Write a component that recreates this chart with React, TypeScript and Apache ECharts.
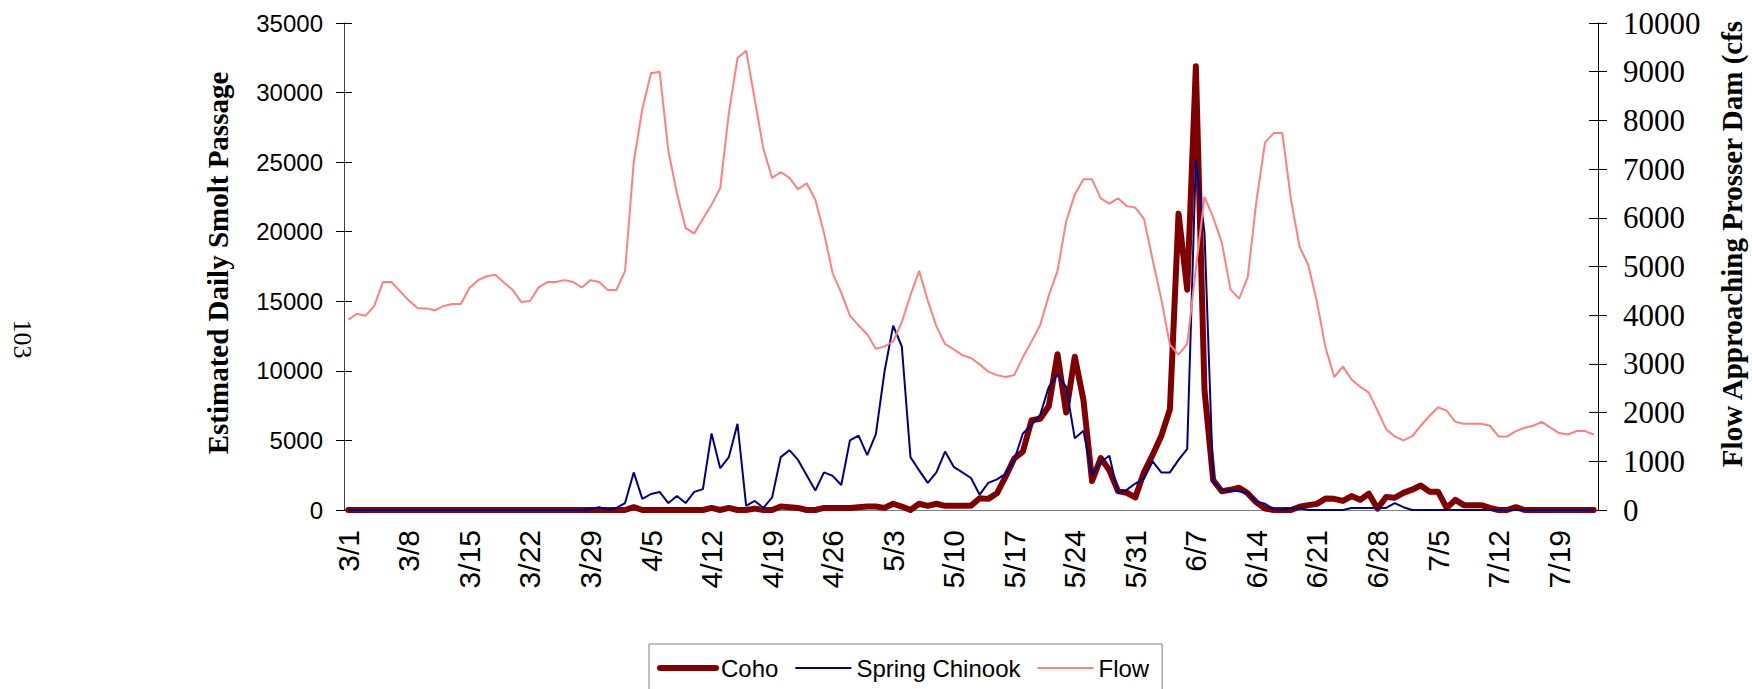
import React, { useEffect, useRef } from "react";
import * as echarts from "echarts";

// Categories: daily dates from 3/1 to 7/23
const MONTH_DAYS: [number, number][] = [
  [3, 31],
  [4, 30],
  [5, 31],
  [6, 30],
  [7, 23],
];
const categories: string[] = [];
for (const [m, n] of MONTH_DAYS) {
  for (let d = 1; d <= n; d++) categories.push(`${m}/${d}`);
}

const seriesNames = ["Coho", "Spring Chinook", "Flow"];

// Estimated daily smolt passage (left axis)
const coho: number[] = [
  0, 0, 0, 0, 0, 0, 0, 0, 0, 0,
  0, 0, 0, 0, 0, 0, 0, 0, 0, 0,
  0, 0, 0, 0, 0, 0, 0, 0, 0, 0,
  0, 0, 0, 200, 0, 0, 0, 0, 0, 0,
  0, 0, 150, 0, 150, 0, 0, 100, 0, 0,
  250, 200, 150, 0, 0, 150, 150, 150, 150, 200,
  250, 250, 150, 450, 250, 0, 450, 300, 450, 300,
  300, 300, 300, 850, 800, 1200, 2400, 3700, 4200, 6450,
  6560, 7470, 11200, 7010, 11020, 7920, 2080, 3730, 2850, 1360,
  1240, 900, 2710, 3960, 5320, 7240, 21300, 15830, 31890, 8600,
  2150, 1350, 1450, 1600, 1200, 550, 100, 0, 0, 0,
  230, 350, 440, 820, 800, 650, 1000, 730, 1170, 100,
  940, 880, 1230, 1460, 1760, 1320, 1320, 150, 730, 350,
  350, 350, 150, 0, 0, 200, 0, 0, 0, 0,
  0, 0, 0, 0, 0,
];

const springChinook: number[] = [
  0, 0, 0, 0, 0, 0, 0, 0, 0, 0,
  0, 0, 0, 0, 0, 0, 0, 0, 0, 0,
  0, 0, 0, 0, 0, 0, 0, 0, 60, 200,
  0, 150, 500, 2700, 800, 1150, 1300, 500, 1000, 500,
  1300, 1500, 5500, 3000, 3800, 6200, 300, 650, 150, 900,
  3800, 4300, 3600, 2500, 1400, 2700, 2450, 1800, 5000, 5350,
  3950, 5450, 9950, 13250, 11750, 3800, 2850, 1950, 2700, 4200,
  3100, 2700, 2300, 1100, 1950, 2200, 2600, 3600, 5500, 6100,
  6850, 8850, 9700, 8850, 5150, 5700, 2500, 3450, 3900, 1200,
  1450, 1900, 2250, 3500, 2700, 2700, 3600, 4400, 25200, 19900,
  2100, 1450, 1400, 1350, 1200, 600, 450, 50, 0, 100,
  100, 0, 0, 0, 0, 0, 150, 150, 150, 150,
  150, 500, 200, 0, 0, 0, 0, 0, 0, 0,
  0, 0, 0, 0, 0, 0, 0, 0, 0, 0,
  0, 0, 0, 0, 0,
];

// Flow approaching Prosser Dam, cfs (right axis)
const flow: number[] = [
  3910, 4030, 3990, 4190, 4680, 4680, 4490, 4300, 4150, 4140,
  4100, 4190, 4230, 4230, 4560, 4720, 4800, 4830, 4670, 4520,
  4270, 4290, 4570, 4680, 4680, 4720, 4680, 4570, 4720, 4680,
  4520, 4520, 4910, 7140, 8240, 8970, 9000, 7380, 6500, 5790,
  5680, 5980, 6270, 6610, 8150, 9280, 9430, 8420, 7410, 6820,
  6940, 6820, 6590, 6710, 6370, 5690, 4860, 4460, 3990, 3790,
  3610, 3310, 3360, 3460, 3860, 4410, 4910, 4300, 3770, 3410,
  3300, 3180, 3120, 2990, 2840, 2770, 2730, 2770, 3140, 3460,
  3800, 4410, 4910, 5920, 6480, 6790, 6790, 6400, 6290, 6400,
  6240, 6210, 5980, 5140, 4330, 3390, 3190, 3410, 4950, 6430,
  6010, 5490, 4530, 4340, 4780, 6340, 7550, 7740, 7740, 6370,
  5400, 5030, 4270, 3330, 2730, 2950, 2680, 2530, 2410, 2040,
  1660, 1510, 1430, 1510, 1730, 1930, 2110, 2040, 1810, 1770,
  1770, 1770, 1730, 1510, 1510, 1620, 1690, 1730, 1810, 1690,
  1580, 1550, 1620, 1620, 1550,
];

const LEFT_TITLE = "Estimated Daily Smolt Passage";
const RIGHT_TITLE = "Flow Approaching Prosser Dam (cfs";
const PAGE_NO = "103";

export default function App() {
  const ref = useRef<HTMLDivElement>(null);

  useEffect(() => {
    if (!ref.current) return;
    const chart = echarts.init(ref.current, undefined, { renderer: "svg" });
    const plain = (v: number) => String(v);
    const sans = "Liberation Sans";
    const serif = "Liberation Serif";

    const option: any = {
      animation: false,
      backgroundColor: "#ffffff",
      grid: { left: 344, right: 154, top: 23, bottom: 179, containLabel: false },
      legend: {
        data: [
          { name: seriesNames[0], lineStyle: { width: 6, cap: "round", color: "#800000" } },
          { name: seriesNames[1], lineStyle: { width: 2, color: "#000080" } },
          { name: seriesNames[2], lineStyle: { width: 2, color: "#ff8080" } },
        ],
        left: 649,
        top: 644,
        orient: "horizontal",
        padding: [12, 13, 40, 8],
        itemGap: 16,
        itemWidth: 56,
        itemHeight: 14,
        itemStyle: { color: "rgba(0,0,0,0)", borderWidth: 0, opacity: 0 },
        borderColor: "#808080",
        borderWidth: 1,
        textStyle: { fontFamily: sans, fontSize: 24, color: "#000" },
      },
      xAxis: {
        type: "category",
        data: categories,
        boundaryGap: true,
        axisLine: { show: true, lineStyle: { color: "#808080", width: 1 } },
        axisTick: { show: false },
        axisLabel: {
          interval: 6,
          rotate: 90,
          margin: 20,
          fontFamily: sans,
          fontSize: 30,
          color: "#000",
        },
        splitLine: { show: false },
      },
      yAxis: [
        {
          type: "value",
          min: 0,
          max: 35000,
          interval: 5000,
          position: "left",
          axisLine: { show: true, lineStyle: { color: "#404040", width: 1 } },
          axisTick: { show: true, length: 8, lineStyle: { color: "#000" } },
          axisLabel: { margin: 21, formatter: plain, fontFamily: sans, fontSize: 24, color: "#000" },
          splitLine: { show: false },
        },
        {
          type: "value",
          min: 0,
          max: 35000,
          interval: 5000,
          position: "left",
          axisLine: { show: false },
          axisTick: { show: true, inside: true, length: 8, lineStyle: { color: "#000" } },
          axisLabel: { show: false },
          splitLine: { show: false },
        },
        {
          type: "value",
          min: 0,
          max: 10000,
          interval: 1000,
          position: "right",
          axisLine: { show: true, lineStyle: { color: "#000", width: 1 } },
          axisTick: { show: true, length: 9, lineStyle: { color: "#000" } },
          axisLabel: { margin: 25, formatter: plain, fontFamily: serif, fontSize: 31, color: "#000" },
          splitLine: { show: false },
        },
        {
          type: "value",
          min: 0,
          max: 10000,
          interval: 1000,
          position: "right",
          axisLine: { show: false },
          axisTick: { show: true, inside: true, length: 9, lineStyle: { color: "#000" } },
          axisLabel: { show: false },
          splitLine: { show: false },
        },
      ],
      series: [
        {
          name: seriesNames[0],
          type: "line",
          yAxisIndex: 0,
          data: coho,
          symbol: "none",
          showSymbol: false,
          itemStyle: { color: "#800000" },
          lineStyle: { color: "#800000", width: 6, cap: "round", join: "round" },
          z: 2,
        },
        {
          name: seriesNames[1],
          type: "line",
          yAxisIndex: 0,
          data: springChinook,
          symbol: "none",
          showSymbol: false,
          itemStyle: { color: "#000080" },
          lineStyle: { color: "#000080", width: 2 },
          z: 3,
        },
        {
          name: seriesNames[2],
          type: "line",
          yAxisIndex: 2,
          data: flow,
          symbol: "none",
          showSymbol: false,
          itemStyle: { color: "#ff8080" },
          lineStyle: { color: "#ff8080", width: 2 },
          z: 4,
        },
      ],
      graphic: [
        {
          type: "text",
          x: 218,
          y: 263,
          rotation: Math.PI / 2,
          style: {
            text: LEFT_TITLE,
            font: `bold 29px "${serif}"`,
            fill: "#000",
            align: "center",
            verticalAlign: "middle",
          },
        },
        {
          type: "text",
          x: 1732,
          y: 244,
          rotation: Math.PI / 2,
          style: {
            text: RIGHT_TITLE,
            font: `bold 29px "${serif}"`,
            fill: "#000",
            align: "center",
            verticalAlign: "middle",
          },
        },
        {
          type: "text",
          x: 22,
          y: 339,
          rotation: -Math.PI / 2,
          style: {
            text: PAGE_NO,
            font: `26px "${serif}"`,
            fill: "#000",
            align: "center",
            verticalAlign: "middle",
          },
        },
      ],
    };

    chart.setOption(option);
    return () => chart.dispose();
  }, []);

  return (
    <div
      ref={ref}
      style={{ position: "fixed", left: 0, top: 0, width: 1752, height: 689, background: "#fff" }}
    />
  );
}
